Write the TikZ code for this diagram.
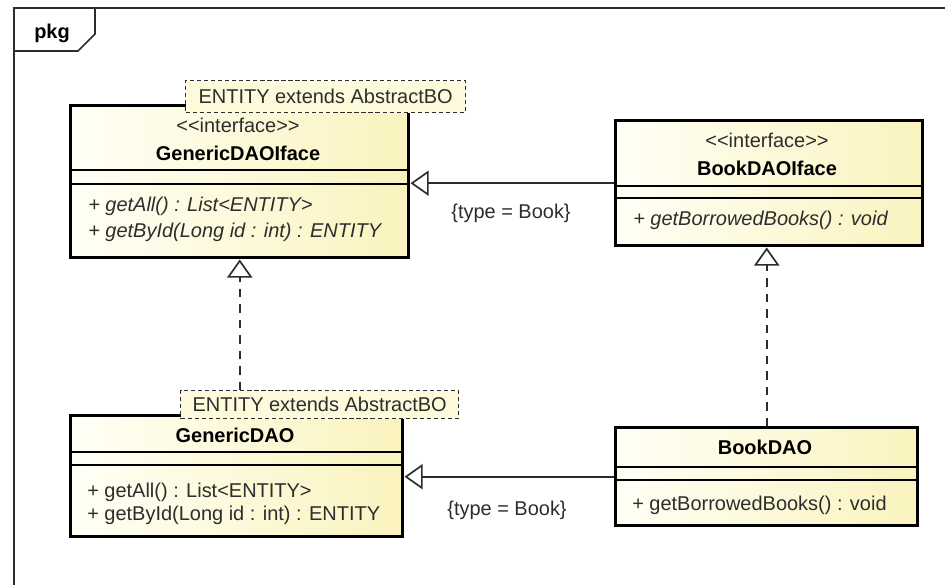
\documentclass[tikz,border=0pt]{standalone}
\usepackage{fontspec}
\setmainfont{Liberation Sans}
\usepackage{xcolor}
\usetikzlibrary{arrows.meta, positioning}
\definecolor{boxlight}{RGB}{255,255,246}
\definecolor{boxdark}{RGB}{250,243,190}
\definecolor{notefill}{RGB}{253,251,220}
\definecolor{inkgray}{RGB}{45,45,45}

\begin{document}
\begin{tikzpicture}[x=0.025cm, y=-0.025cm,
  every node/.style={font=\fontsize{14.2}{17}\selectfont, inner sep=0pt},
  classbox/.style={draw=black, line width=2.4pt, left color=boxlight, right color=boxdark, anchor=north west},
  sepline/.style={line width=1.2pt},
  notebox/.style={draw=inkgray, line width=0.9pt, dash pattern=on 3pt off 2pt, fill=notefill, anchor=north west, text=inkgray},
  nametxt/.style={anchor=base, font=\fontsize{14.2}{17}\selectfont\bfseries},
  stereo/.style={anchor=base, text=inkgray},
  optxt/.style={anchor=base west, text=inkgray},
  absop/.style={optxt, font=\fontsize{14.2}{17}\selectfont\itshape},
  frame/.style={draw=inkgray, line width=1.1pt},
  gen/.style={draw=inkgray, line width=1.2pt, -{Triangle[open, length=13pt, width=18pt]}},
  real/.style={gen, dash pattern=on 6pt off 5pt},
  constr/.style={anchor=base, text=inkgray}
]
\useasboundingbox (0,0) rectangle (945,585);
% package frame with its tab
\draw[frame] (14,585) -- (14,8) -- (945,8);
\draw[frame] (14,51) -- (78,51) -- (95,34) -- (95,8);
\node[nametxt] (pkg) at (52,38) {pkg};

% classes
\node[classbox, minimum width=8.45cm, minimum height=3.8cm] (giface) at (69,104) {};
\node[classbox, minimum width=7.675cm, minimum height=3.125cm] (bookiface) at (614,119) {};
\node[classbox, minimum width=8.3cm, minimum height=3.025cm] (gdao) at (69,414) {};
\node[classbox, minimum width=7.55cm, minimum height=2.45cm] (bookdao) at (614,426) {};

% compartments
\foreach \cls/\ya/\yb in {giface/170/184, bookiface/186/198, gdao/452/465, bookdao/467/480}{
  \draw[sepline] (\cls.west |- 0,\ya) -- (\cls.east |- 0,\ya);
  \draw[sepline] (\cls.west |- 0,\yb) -- (\cls.east |- 0,\yb);
}

% GenericDAOIface
\node[stereo] (gifacest) at (238,132) {<\kern0pt<interface>\kern0pt>};
\node[nametxt] (gifacename) at (238,160) {GenericDAOIface};
\node[absop] (gifaceop1) at (88,211) {+ getAll() : List<ENTITY>};
\node[absop] (gifaceop2) at (88,237) {+ getById(Long id : int) : ENTITY};

% BookDAOIface
\node[stereo] (bookifacest) at (767,147) {<\kern0pt<interface>\kern0pt>};
\node[nametxt] (bookifacename) at (767,175) {BookDAOIface};
\node[absop] (bookifaceop1) at (633,225) {+ getBorrowedBooks() : void};

% GenericDAO
\node[nametxt] (gdaoname) at (235,442) {GenericDAO};
\node[optxt] (gdaoop1) at (87,497) {+ getAll() : List<ENTITY>};
\node[optxt] (gdaoop2) at (87,520) {+ getById(Long id : int) : ENTITY};

% BookDAO
\node[nametxt] (bookdaoname) at (765,454) {BookDAO};
\node[optxt] (bookdaoop1) at (632,510) {+ getBorrowedBooks() : void};

% template notes
\node[notebox, minimum width=7cm, minimum height=0.8cm] (gifacenote) at (185,80) {ENTITY extends AbstractBO};
\node[notebox, minimum width=6.95cm, minimum height=0.7cm] (gdaonote) at (180,390) {ENTITY extends AbstractBO};

% relations
\draw[gen] (bookiface.west) -- (bookiface.west -| giface.east);
\node[constr] (bindtop) at (511,218) {\{type = Book\}};
\draw[gen] (bookdao.west) -- (bookdao.west -| gdao.east);
\node[constr] (bindbot) at (507,515) {\{type = Book\}};
\draw[real] (gdaonote.north -| giface.south) -- (giface.south);
\draw[real] (bookdao.north) -- (bookdao.north |- bookiface.south);
\end{tikzpicture}
\end{document}
